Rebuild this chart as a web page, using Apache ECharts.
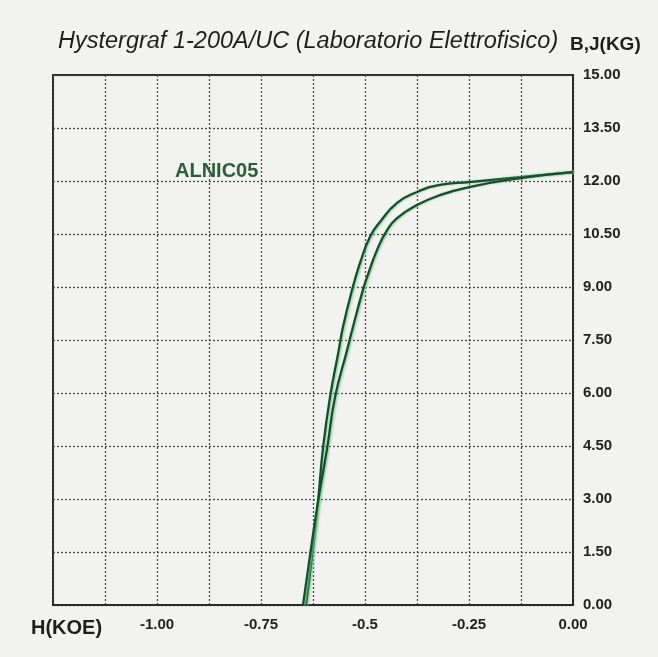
<!DOCTYPE html>
<html>
<head>
<meta charset="utf-8">
<script src="https://cdn.jsdelivr.net/npm/echarts@6/dist/echarts.min.js"></script>
<style>
html,body{margin:0;padding:0;background:#f2f2f0;}
#chart{width:658px;height:657px;}
</style>
</head>
<body>
<div id="chart"></div>
<script>
// Curve 1 (sharper knee) : H (kOe), B/J (kG)
var curve1H = [-0.642, -0.627, -0.613, -0.601, -0.584, -0.563, -0.553, -0.531, -0.512, -0.488, -0.464, -0.423, -0.375, -0.320, -0.250, -0.127, 0.000];
var curve1B = [0.00, 1.42, 2.92, 4.44, 5.89, 7.22, 7.87, 8.92, 9.68, 10.42, 10.84, 11.38, 11.69, 11.89, 11.97, 12.11, 12.25];
// Curve 2 (rounder knee)
var curve2H = [-0.649, -0.632, -0.613, -0.591, -0.572, -0.543, -0.529, -0.505, -0.495, -0.471, -0.447, -0.423, -0.375, -0.320, -0.250, -0.127, 0.000];
var curve2B = [0.00, 1.42, 2.92, 4.44, 5.89, 7.22, 7.87, 8.92, 9.28, 10.05, 10.61, 10.95, 11.32, 11.60, 11.83, 12.08, 12.25];

var xLabelValues = [-1.0, -0.75, -0.5, -0.25, 0.0];
var xLabelTexts = ['-1.00', '-0.75', '-0.5', '-0.25', '0.00'];
var yLabelValues = [0, 1.5, 3, 4.5, 6, 7.5, 9, 10.5, 12, 13.5, 15];
var yLabelTexts = ['0.00', '1.50', '3.00', '4.50', '6.00', '7.50', '9.00', '10.50', '12.00', '13.50', '15.00'];

var titleText = 'Hystergraf 1-200A/UC (Laboratorio Elettrofisico)';
var yUnitText = 'B,J(KG)';
var xUnitText = 'H(KOE)';
var materialText = 'ALNIC05';

function pairs(xs, ys) { return xs.map(function (x, i) { return [x, ys[i]]; }); }
function lookup(vals, texts, v) {
  for (var i = 0; i < vals.length; i++) if (Math.abs(vals[i] - v) < 1e-6) return texts[i];
  return '';
}

var FONT = '"Liberation Sans", Arial, sans-serif';
var chart = echarts.init(document.getElementById('chart'));
var lineStyle = {
  color: '#1d4a2e', width: 2.3,
  shadowColor: 'rgba(110,210,140,0.85)', shadowBlur: 2, shadowOffsetX: 1.5, shadowOffsetY: 0
};
chart.setOption({
  backgroundColor: '#f2f2f0',
  animation: false,
  grid: { left: 53, right: 85, top: 75, bottom: 52, show: true, borderColor: '#2a2a2a', borderWidth: 2, backgroundColor: 'transparent' },
  xAxis: {
    type: 'value', min: -1.25, max: 0, interval: 0.125,
    axisLine: { show: true, onZero: false, lineStyle: { color: '#2a2a2a', width: 2 } },
    axisTick: { show: false },
    axisLabel: {
      margin: 12, color: '#222', fontFamily: FONT, fontWeight: 'bold', fontSize: 15,
      formatter: function (v) { return lookup(xLabelValues, xLabelTexts, v); }
    },
    splitLine: { show: true, lineStyle: { color: '#4a4a4a', width: 1.3, type: [2, 2] } }
  },
  yAxis: {
    type: 'value', position: 'right', min: 0, max: 15, interval: 1.5,
    axisLine: { show: true, onZero: false, lineStyle: { color: '#2a2a2a', width: 2 } },
    axisTick: { show: false },
    axisLabel: {
      margin: 10, color: '#222', fontFamily: FONT, fontWeight: 'bold', fontSize: 15,
      formatter: function (v) { return lookup(yLabelValues, yLabelTexts, v); }
    },
    splitLine: { show: true, lineStyle: { color: '#4a4a4a', width: 1.3, type: [2, 2] } }
  },
  graphic: [
    { type: 'text', left: 58, top: 30, style: { text: titleText, font: 'italic 23.5px ' + FONT, fill: '#1e1e1e' } },
    { type: 'text', left: 570, top: 35, style: { text: yUnitText, font: 'bold 19px ' + FONT, fill: '#1e1e1e' } },
    { type: 'text', left: 31, top: 618, style: { text: xUnitText, font: 'bold 20px ' + FONT, fill: '#1e1e1e' } },
    { type: 'text', left: 175, top: 161, style: { text: materialText, font: 'bold 20px ' + FONT, fill: '#2b5d3b' } }
  ],
  series: [
    { type: 'line', data: pairs(curve1H, curve1B), smooth: 0.5, showSymbol: false, lineStyle: lineStyle, clip: false },
    { type: 'line', data: pairs(curve2H, curve2B), smooth: 0.5, showSymbol: false, lineStyle: lineStyle, clip: false }
  ]
});
</script>
</body>
</html>
